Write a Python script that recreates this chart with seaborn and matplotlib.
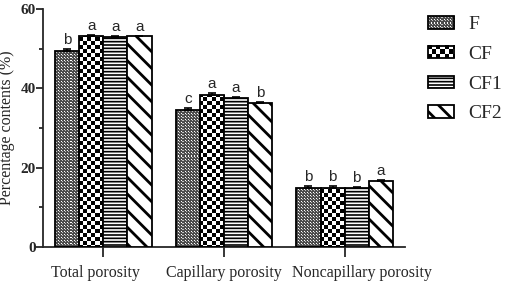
import matplotlib.pyplot as plt
import numpy as np
import pandas as pd
import seaborn as sns
from matplotlib.legend_handler import HandlerBase
from matplotlib.image import BboxImage
from matplotlib.transforms import Bbox, TransformedBbox, ScaledTranslation
from matplotlib.patches import Rectangle
from matplotlib.ticker import MultipleLocator

# data
groups = ['Total porosity', 'Capillary porosity', 'Noncapillary porosity']
treatments = ['F', 'CF', 'CF1', 'CF2']

f_vals = [49.4, 34.6, 14.8]
cf_vals = [53.1, 38.3, 14.8]
cf1_vals = [53.0, 37.7, 15.0]
cf2_vals = [53.1, 36.4, 16.6]

f_err = [0.6, 0.4, 0.7]
cf_err = [0.3, 0.5, 0.7]
cf1_err = [0.2, 0.2, 0.2]
cf2_err = [0.2, 0.2, 0.2]

f_letters = ['b', 'c', 'b']
cf_letters = ['a', 'a', 'b']
cf1_letters = ['a', 'a', 'b']
cf2_letters = ['a', 'b', 'a']

vals = [f_vals, cf_vals, cf1_vals, cf2_vals]
errs = [f_err, cf_err, cf1_err, cf2_err]
letters = [f_letters, cf_letters, cf1_letters, cf2_letters]

rows = []
for t, v in zip(treatments, vals):
    for g, y in zip(groups, v):
        rows.append({'group': g, 'treatment': t, 'value': y})
df = pd.DataFrame(rows)


def dots(h, w):
    # dark grey stipple with small white dots
    i, j = np.mgrid[0:h, 0:w]
    a = np.full((h, w), 0.3)
    a[(i % 3 == 0) & (j % 3 == 0)] = 1.0
    a[(i % 3 == 1) & (j % 3 == 1)] = 0.75
    return np.dstack([a, a, a])


def checker(h, w, s=4):
    i, j = np.mgrid[0:h, 0:w]
    a = ((i // s + j // s) % 2).astype(float)
    return np.dstack([a, a, a])


textures = {'F': dots, 'CF': checker}
hatches = {'F': '', 'CF': '', 'CF1': '-----', 'CF2': '\\\\'}

sns.set_style('ticks')
plt.rcParams['font.family'] = ['Liberation Serif', 'DejaVu Serif']
plt.rcParams['hatch.linewidth'] = 1.2

fig = plt.figure(figsize=(5.05, 2.84), dpi=100)
ax = fig.add_axes([0.085, 0.13, 0.717, 0.838])

sns.barplot(data=df, x='group', y='value', hue='treatment', order=groups,
            hue_order=treatments, palette=['white'] * 4, saturation=1,
            edgecolor='black', linewidth=1.3, errorbar=None, width=0.8,
            gap=0, legend=False, ax=ax)

ax.set_xlim(-0.5, 2.5)
ax.set_ylim(0, 60)

W = int(round(0.717 * 505))
H = int(round(0.838 * 284))

bar_conts = list(ax.containers)
for k, cont in enumerate(bar_conts):
    t = treatments[k]
    xs = []
    for j, bar in enumerate(cont):
        bar.set_zorder(3)
        bar.set_hatch(hatches[t])
        if t == 'CF2' and hasattr(bar, 'set_hatch_linewidth'):
            bar.set_hatch_linewidth(2.0)
        if t in textures:
            bar.set_facecolor('none')
            im = ax.imshow(textures[t](H, W), extent=[-0.5, 2.5, 0, 60],
                           aspect='auto', interpolation='nearest', zorder=2)
            im.set_clip_path(bar)
        xc = bar.get_x() + bar.get_width() / 2
        xs.append(xc)
        top = vals[k][j] + errs[k][j]
        ax.text(xc, top + 0.5, letters[k][j], ha='center', va='bottom',
                fontsize=11, family='Liberation Sans', zorder=5)
    ax.errorbar(xs, vals[k], yerr=[np.zeros(3), errs[k]], fmt='none',
                ecolor='black', elinewidth=1.2, capsize=3, capthick=1.2, zorder=4)

ax.set_xlim(-0.5, 2.5)
ax.set_ylim(0, 60)
ax.set_yticks([0, 20, 40, 60])
ax.yaxis.set_minor_locator(MultipleLocator(10))
ax.set_xlabel('')
ax.set_ylabel('Percentage contents (%)', fontsize=11.5)
ax.yaxis.set_label_coords(-0.077, 0.5)
ax.tick_params(axis='y', which='major', length=5, width=1.3, pad=0, labelsize=11)
ax.tick_params(axis='y', which='minor', length=3, width=1.3)
ax.tick_params(axis='x', length=7, width=1.3, pad=6, labelsize=11.5)
for lab in ax.get_yticklabels():
    lab.set_fontweight('bold')
# the x labels in the original sit a little off their ticks
for lab, dx in zip(ax.get_xticklabels(), [-8, 0, 17]):
    lab.set_transform(lab.get_transform() + ScaledTranslation(dx / 100, 0, fig.dpi_scale_trans))
sns.despine(ax=ax)
for s in ['left', 'bottom']:
    ax.spines[s].set_linewidth(1.3)


class TextureHandler(HandlerBase):
    def __init__(self, tex, hatch, hlw=None):
        super().__init__()
        self.tex = tex
        self.hatch = hatch
        self.hlw = hlw

    def create_artists(self, legend, orig_handle, xdescent, ydescent,
                       width, height, fontsize, trans):
        arts = []
        if self.tex is not None:
            bb = TransformedBbox(Bbox.from_bounds(-xdescent, -ydescent, width, height), trans)
            img = BboxImage(bb, interpolation='nearest')
            img.set_data(self.tex(12, 26))
            arts.append(img)
        r = Rectangle((-xdescent, -ydescent), width, height,
                      facecolor='none' if self.tex is not None else 'white',
                      edgecolor='black', linewidth=1.3, hatch=self.hatch,
                      transform=trans)
        if self.hlw and hasattr(r, 'set_hatch_linewidth'):
            r.set_hatch_linewidth(self.hlw)
        arts.append(r)
        return arts


handles = [Rectangle((0, 0), 1, 1) for _ in treatments]
hmap = {
    handles[0]: TextureHandler(dots, ''),
    handles[1]: TextureHandler(checker, ''),
    handles[2]: TextureHandler(None, '-----'),
    handles[3]: TextureHandler(None, '\\\\', 2.0),
}
fig.legend(handles, treatments, handler_map=hmap, loc='upper left',
           bbox_to_anchor=(0.847, 0.943), frameon=False, fontsize=14,
           handlelength=1.35, handleheight=0.6, labelspacing=0.65,
           handletextpad=0.75, borderpad=0, borderaxespad=0)

fig.savefig('out.png', dpi=100)
